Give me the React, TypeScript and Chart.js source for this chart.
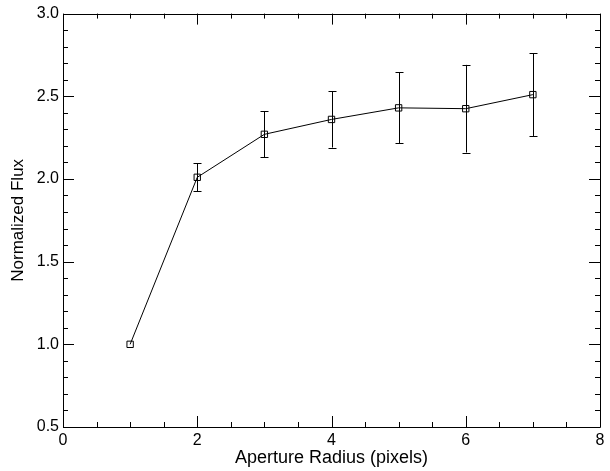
import React, { useEffect, useRef } from "react";
import { Chart, registerables } from "chart.js";

Chart.register(...registerables);

const radii = [1, 2, 3, 4, 5, 6, 7];
const flux = [1.0, 2.01, 2.27, 2.36, 2.43, 2.425, 2.51];
const fluxErr = [0, 0.085, 0.14, 0.17, 0.215, 0.265, 0.25];

const X_MIN = 0;
const X_MAX = 8;
const X_MAJOR = 2;
const X_MINOR = 0.5;
const Y_MIN = 0.5;
const Y_MAX = 3.0;
const Y_MAJOR = 0.5;
const Y_MINOR = 0.1;

const FONT = "'Liberation Sans', Arial, Helvetica, sans-serif";

const idlPlugin = {
  id: "idlAxes",
  afterDatasetsDraw(chart: any) {
    const { ctx, chartArea, scales } = chart;
    const { left, right, top, bottom } = chartArea;
    const xs = scales.x;
    const ys = scales.y;
    const r = (v: number) => Math.round(v) + 0.5;
    ctx.save();
    ctx.strokeStyle = "#000";
    ctx.lineWidth = 1;

    // error bars
    const meta = chart.getDatasetMeta(0);
    meta.data.forEach((pt: any, i: number) => {
      const e = fluxErr[i];
      if (!e) return;
      const px = r(xs.getPixelForValue(radii[i]));
      const y1 = ys.getPixelForValue(flux[i] + e);
      const y2 = ys.getPixelForValue(flux[i] - e);
      ctx.beginPath();
      ctx.moveTo(px, y1);
      ctx.lineTo(px, y2);
      ctx.moveTo(px - 4, r(y1));
      ctx.lineTo(px + 4, r(y1));
      ctx.moveTo(px - 4, r(y2));
      ctx.lineTo(px + 4, r(y2));
      ctx.stroke();
    });

    // box
    ctx.beginPath();
    ctx.rect(r(left), r(top), Math.round(right) - Math.round(left), Math.round(bottom) - Math.round(top));
    ctx.stroke();

    // x ticks
    const nx = Math.round((X_MAX - X_MIN) / X_MINOR);
    const perX = Math.round(X_MAJOR / X_MINOR);
    for (let k = 0; k <= nx; k++) {
      const v = X_MIN + k * X_MINOR;
      const px = r(xs.getPixelForValue(v));
      const len = k % perX === 0 ? 11 : 5;
      ctx.beginPath();
      ctx.moveTo(px, bottom);
      ctx.lineTo(px, bottom - len);
      ctx.moveTo(px, top);
      ctx.lineTo(px, top + len);
      ctx.stroke();
    }
    // y ticks
    const ny = Math.round((Y_MAX - Y_MIN) / Y_MINOR);
    const perY = Math.round(Y_MAJOR / Y_MINOR);
    for (let k = 0; k <= ny; k++) {
      const v = Y_MIN + k * Y_MINOR;
      const py = r(ys.getPixelForValue(v));
      const len = k % perY === 0 ? 11 : 5;
      ctx.beginPath();
      ctx.moveTo(left, py);
      ctx.lineTo(left + len, py);
      ctx.moveTo(right, py);
      ctx.lineTo(right - len, py);
      ctx.stroke();
    }
    ctx.restore();
  },
};

export default function App() {
  const ref = useRef<HTMLCanvasElement>(null);
  useEffect(() => {
    if (!ref.current) return;
    const chart = new Chart(ref.current, {
      type: "scatter",
      data: {
        datasets: [
          {
            data: radii.map((x, i) => ({ x, y: flux[i] })),
            showLine: true,
            borderColor: "#000",
            borderWidth: 1,
            pointStyle: "rect",
            pointRadius: 4.5,
            pointBackgroundColor: "rgba(0,0,0,0)",
            pointBorderColor: "#000",
            pointBorderWidth: 1,
            tension: 0,
          },
        ],
      },
      options: {
        responsive: false,
        animation: false,
        layout: { padding: { top: 13, right: 10, left: 0, bottom: 0 } },
        plugins: {
          legend: { display: false },
          tooltip: { enabled: false },
        },
        scales: {
          x: {
            type: "linear",
            min: X_MIN,
            max: X_MAX,
            grid: { display: false, drawTicks: false },
            border: { display: false },
            ticks: {
              stepSize: X_MAJOR,
              padding: 4,
              color: "#000",
              font: { family: FONT, size: 16 },
              callback: (v: any) => String(v),
            },
            title: {
              display: true,
              text: "Aperture Radius (pixels)",
              color: "#000",
              font: { family: FONT, size: 18 },
              padding: { top: 2, bottom: 2 },
            },
            afterFit: (s: any) => {
              s.height = 44;
            },
          },
          y: {
            type: "linear",
            min: Y_MIN,
            max: Y_MAX,
            grid: { display: false, drawTicks: false },
            border: { display: false },
            ticks: {
              stepSize: Y_MAJOR,
              padding: 4,
              color: "#000",
              font: { family: FONT, size: 16 },
              callback: (v: any) => Number(v).toFixed(1),
            },
            title: {
              display: true,
              text: "Normalized Flux",
              color: "#000",
              font: { family: FONT, size: 17 },
              padding: { top: 8, bottom: 8 },
            },
            afterFit: (s: any) => {
              s.width = 63;
            },
          },
        },
      },
      plugins: [idlPlugin],
    });
    return () => chart.destroy();
  }, []);
  return (
    <div style={{ position: "fixed", left: 0, top: 0, width: 610, height: 471, background: "#fff" }}>
      <canvas ref={ref} width={610} height={471} style={{ display: "block" }} />
    </div>
  );
}
